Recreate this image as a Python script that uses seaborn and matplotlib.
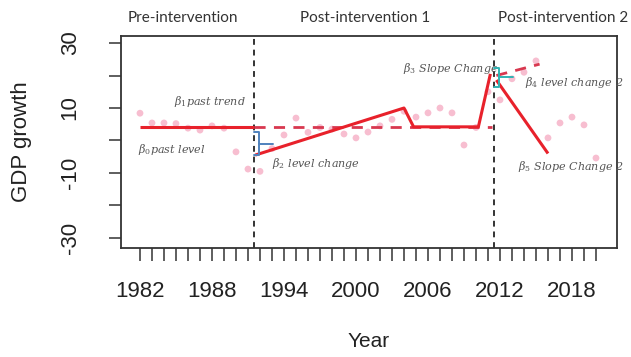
"""
Interrupted time series sketch: GDP growth with two interventions.
"""
import matplotlib
matplotlib.use("Agg")
import matplotlib.pyplot as plt
import seaborn as sns
import pandas as pd

# observed points
years = [1982, 1983, 1984, 1985, 1986, 1987, 1988, 1989, 1990, 1991,
         1992, 1993, 1994, 1995, 1996, 1997, 1998, 1999, 2000, 2001,
         2002, 2003, 2004, 2005, 2006, 2007, 2008, 2009, 2010, 2011,
         2012, 2013, 2014, 2015, 2016, 2017, 2018, 2019, 2020]
gdp = [8.4, 5.4, 5.4, 5.2, 3.8, 3.2, 4.5, 3.8, -3.5, -8.8,
       -9.5, -2.5, 1.7, 6.9, 2.5, 4.0, 3.5, 2.0, 0.8, 2.6,
       4.5, 6.5, 9.0, 7.2, 8.5, 10.0, 8.5, -1.4, 4.0, 15.0,
       12.5, 19.0, 21.0, 24.5, 0.8, 5.4, 7.2, 4.8, -5.4]

# fitted segments
pre_x = [1982, 1991.5]
pre_y = [4.2, 4.2]
post1_x = [1991.6, 2004.0, 2004.8, 2010.2, 2011.2]
post1_y = [-4.5, 10.0, 4.2, 4.2, 20.5]
post2_x = [2011.7, 2016.0]
post2_y = [18.6, -4.0]

# counterfactual (dashed) segments
cf1_x = [1991.5, 2011.3]
cf1_y = [4.2, 4.2]
cf2_x = [2011.7, 2015.3]
cf2_y = [20.0, 23.5]

interventions = [1991.5, 2011.5]
periods = ["Pre-intervention", "Post-intervention 1", "Post-intervention 2"]

x_major = [1982, 1988, 1994, 2000, 2006, 2012, 2018]
y_ticks = [-30, -20, -10, 0, 10, 20, 30]
y_labels = ["-30", "", "-10", "", "10", "", "30"]

sns.set_style("ticks")
plt.rcParams["font.family"] = ["Liberation Sans", "DejaVu Sans"]
plt.rcParams["mathtext.fontset"] = "dejavuserif"

fig = plt.figure(figsize=(6.31, 3.57), dpi=100)
ax = fig.add_axes([0.1918, 0.3053, 0.7860, 0.5937])

red = "#e8212b"
pts = pd.DataFrame({"year": years, "gdp": gdp})
sns.scatterplot(data=pts, x="year", y="gdp", ax=ax, color="#f5a3bd",
                s=24, alpha=0.7, edgecolor="none", zorder=2)

sns.lineplot(x=cf1_x, y=cf1_y, ax=ax, color="#d8384f", lw=2.0,
             zorder=3).lines[-1].set_linestyle((0, (4, 3)))
sns.lineplot(x=cf2_x, y=cf2_y, ax=ax, color="#d8384f", lw=2.0,
             zorder=3).lines[-1].set_linestyle((0, (4, 3)))
for xs, ys in [(pre_x, pre_y), (post1_x, post1_y), (post2_x, post2_y)]:
    ax.plot(xs, ys, color=red, lw=2.2, zorder=4, solid_capstyle="butt")

for xv in interventions:
    ax.axvline(xv, color="#333333", lw=1.4, ls=(0, (3, 2.5)), zorder=1)

# level change brackets
def bracket(x0, top, bottom, color):
    ax.plot([x0 - 0.45, x0, x0, x0 - 0.45], [top, top, bottom, bottom],
            color=color, lw=1.4, zorder=5)
    ax.plot([x0, x0 + 1.1], [(top + bottom) / 2] * 2, color=color, lw=1.4, zorder=5)

bracket(1991.95, pre_y[-1] - 1.6, post1_y[0], "#4f81bd")
bracket(2011.95, cf2_y[0] + 2.3, post2_y[0] - 2.1, "#2fb3b3")

ann = dict(color="#555555", fontsize=8, style="italic", family="DejaVu Serif")
ax.text(1984.8, 11.0, r"$\beta_1$past trend", **ann)
ax.text(1981.8, -3.7, r"$\beta_0$past level", **ann)
ax.text(1993.0, -8.2, r"$\beta_2$ level change", **ann)
ax.text(2003.9, 21.0, r"$\beta_3$ Slope Change", **ann)
ax.text(2014.1, 16.8, r"$\beta_4$ level change 2", **ann)
ax.text(2013.5, -9.0, r"$\beta_5$ Slope Change 2", **ann)

top = dict(transform=ax.get_xaxis_transform(), fontsize=11, color="#333333",
           family=["Lato", "DejaVu Sans"], va="center", clip_on=False)
ax.text(1985.6, 1.085, periods[0], ha="center", **top)
ax.text(2000.75, 1.085, periods[1], ha="center", **top)
ax.text(2011.8, 1.085, periods[2], ha="left", **top)

ax.set_xlim(1980.42, 2021.75)
ax.set_ylim(-33.1, 32.15)
ax.set_xticks(years)
ax.set_xticklabels([str(y) if y in x_major else "" for y in years])
ax.set_yticks(y_ticks)
ax.set_yticklabels(y_labels)
ax.tick_params(axis="x", length=9, width=1.1, color="#333333", labelsize=16,
               pad=15, labelcolor="#222222")
ax.tick_params(axis="y", length=9, width=1.1, color="#333333", labelsize=16,
               pad=20, labelcolor="#222222", labelrotation=90)
for lbl in ax.get_yticklabels():
    lbl.set_va("center")
for sp in ax.spines.values():
    sp.set_visible(True)
    sp.set_color("#333333")
    sp.set_linewidth(1.3)

ax.set_xlabel("Year", fontsize=15, color="#222222", labelpad=21)
ax.set_ylabel("GDP growth", fontsize=16, color="#222222", labelpad=20)

fig.savefig("out.png", dpi=100)
